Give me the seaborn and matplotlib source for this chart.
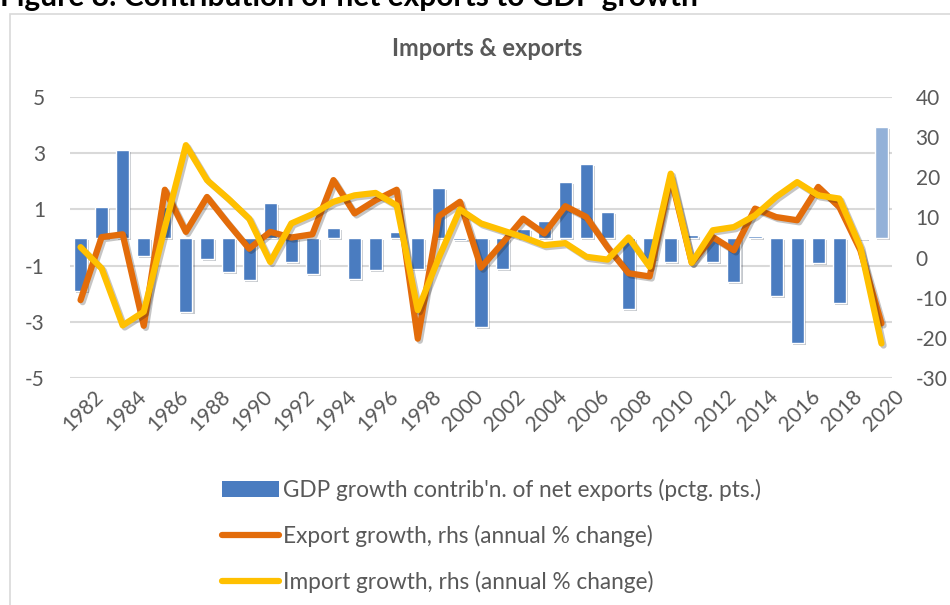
import numpy as np
import pandas as pd
import matplotlib
matplotlib.use("Agg")
import matplotlib.pyplot as plt
import matplotlib.patheffects as pe
from matplotlib.patches import Patch, Rectangle
from matplotlib.lines import Line2D
from matplotlib.transforms import ScaledTranslation
import seaborn as sns

years = list(range(1982, 2021))
net_exports = [-1.9, 1.1, 3.1, -0.65, 1.1, -2.64, -0.77, -1.22, -1.5, 1.22,
               -0.86, -1.29, 0.33, -1.48, -1.16, 0.2, -1.12, 1.76, -0.1, -3.18,
               -1.12, 0.3, 0.58, 1.97, 2.61, 0.91, -2.55, -0.75, -0.86, 0.1,
               -0.86, -1.57, 0.05, -2.07, -3.76, -0.91, -2.32, -0.05, 3.94]
export_growth = [-10.6, 5.1, 5.8, -17.0, 16.9, 6.4, 15.1, 8.5, 2.2, 6.4,
                 5.0, 5.8, 19.3, 11.0, 14.3, 16.9, -20.2, 10.3, 13.9, -2.5,
                 3.5, 9.7, 6.0, 12.8, 10.1, 2.6, -3.9, -4.7, 20.1, -1.3,
                 5.1, 1.8, 12.2, 10.1, 9.3, 17.6, 12.6, 1.8, -16.4]
import_growth = [2.6, -2.7, -16.9, -13.5, 7.5, 28.0, 19.3, 14.7, 9.7, -1.1,
                 8.5, 10.8, 13.9, 15.5, 16.1, 13.0, -13.1, 0.0, 12.0, 8.5,
                 6.8, 5.1, 3.1, 3.6, 0.2, -0.5, 5.0, -2.3, 20.9, -1.3,
                 6.8, 7.6, 10.5, 15.1, 18.8, 15.5, 14.7, 2.6, -21.4]
left_ticks = [-5, -3, -1, 1, 3, 5]
right_ticks = [-30, -20, -10, 0, 10, 20, 30, 40]
labels = ["GDP growth contrib'n. of net exports (pctg. pts.)",
          "Export growth, rhs (annual % change)",
          "Import growth, rhs (annual % change)"]

BLUE = "#4A7CC0"
BLUE_LIGHT = "#93B1D8"
ORANGE = "#E36C0A"
YELLOW = "#FFC000"
GREY_TXT = "#595959"
GRID = "#D9D9D9"

sns.set_theme(style="white")
plt.rcParams['font.family'] = ['Lato', 'DejaVu Sans']
plt.rcParams['axes.unicode_minus'] = False

df = pd.DataFrame({"year": [str(y) for y in years], "net": net_exports,
                   "exp": export_growth, "imp": import_growth,
                   "pos": np.arange(len(years))})

W, H = 950, 605
fig = plt.figure(figsize=(W / 100, H / 100), dpi=100)
ax = fig.add_axes([70 / W, 1 - 378 / H, (892 - 70) / W, (378 - 97) / H])

colors = [BLUE] * (len(years) - 1) + [BLUE_LIGHT]
sns.barplot(data=df, x="year", y="net", hue="year", palette=colors,
            legend=False, width=0.62, ax=ax, saturation=1)
shadow = [pe.SimplePatchShadow(offset=(1.5, -1.5), alpha=0.25), pe.Normal()]
for p in ax.patches:
    p.set_path_effects(shadow)

ax.set_ylim(-5, 5)
ax.set_yticks(left_ticks)
ax.set_xlim(-0.5, len(years) - 0.5)
ax.grid(axis="y", color=GRID, linewidth=1.5)
ax.set_axisbelow(True)
for s in ax.spines.values():
    s.set_visible(False)
ax.set_xlabel("")
ax.set_ylabel("")
ax.tick_params(axis="y", length=0, labelsize=15, labelcolor=GREY_TXT, pad=18)
ax.set_xticks(np.arange(0, len(years), 2))
ax.set_xticklabels([str(y) for y in years[::2]], rotation=45, ha="right",
                   rotation_mode="anchor", fontsize=15, color=GREY_TXT)
ax.tick_params(axis="x", length=0, pad=6)
off = ScaledTranslation(13 / 100, 0, fig.dpi_scale_trans)
for lbl in ax.get_xticklabels():
    lbl.set_transform(lbl.get_transform() + off)

ax2 = ax.twinx()
line_fx = [pe.SimpleLineShadow(offset=(1.5, -1.5), alpha=0.25), pe.Normal()]
sns.lineplot(data=df, x="pos", y="exp", color=ORANGE, linewidth=4.5, ax=ax2,
             path_effects=line_fx)
sns.lineplot(data=df, x="pos", y="imp", color=YELLOW, linewidth=4.5, ax=ax2,
             path_effects=line_fx)
ax2.set_ylim(-30, 40)
ax2.set_yticks(right_ticks)
ax2.set_xlim(-0.5, len(years) - 0.5)
ax2.set_xlabel("")
ax2.set_ylabel("")
for s in ax2.spines.values():
    s.set_visible(False)
ax2.tick_params(axis="y", length=0, labelsize=15, labelcolor=GREY_TXT, pad=17)
ax2.grid(False)

# chart frame
fig.patches.append(Rectangle((10 / W, -0.05), 1.2, 1 - 14 / H + 0.05,
                             transform=fig.transFigure, fill=False,
                             edgecolor=GRID, linewidth=1.2))
fig.text(0.0, 1 - 6 / H, "Figure 8: Contribution of net exports to GDP growth",
         fontsize=21.5, fontweight="bold", color="black", va="baseline", ha="left")
fig.text(487 / W, 1 - 48 / H, "Imports & exports", fontsize=17,
         fontweight="bold", color=GREY_TXT, ha="center", va="center")

handles = [Patch(facecolor=BLUE, edgecolor="none"),
           Line2D([0], [0], color=ORANGE, linewidth=4.5, solid_capstyle="round"),
           Line2D([0], [0], color=YELLOW, linewidth=4.5, solid_capstyle="round")]
leg = fig.legend(handles, labels, loc="upper left",
                 bbox_to_anchor=(222 / W, 1 - 479 / H), frameon=False,
                 fontsize=16.3, handlelength=2.5, handletextpad=0.2,
                 labelspacing=1.06, borderpad=0, borderaxespad=0)
for t in leg.get_texts():
    t.set_color(GREY_TXT)

fig.savefig("out.png", dpi=100)
